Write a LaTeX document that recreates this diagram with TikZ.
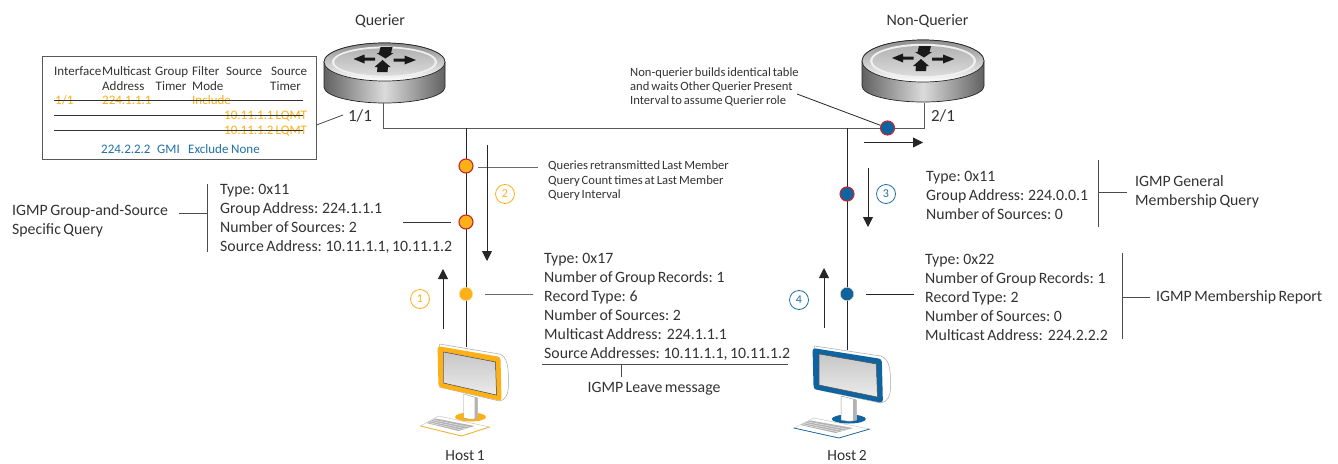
\documentclass[tikz,border=0pt]{standalone}
\usepackage{fontspec}
\setmainfont{Carlito}[WordSpace=0.7]
\usetikzlibrary{arrows.meta}
\definecolor{amb}{HTML}{FDB116}
\definecolor{blu}{HTML}{0F639F}
\definecolor{tblu}{HTML}{1F6FA8}
\definecolor{redr}{HTML}{C8252C}
\definecolor{call}{HTML}{6A6A6A}
\definecolor{txt}{HTML}{333333}
\newcommand{\fs}[1]{\fontsize{#1}{#1}\selectfont}
\tikzset{
  x=1pt,y=-1pt,
  wire/.style={draw=black!85,line width=.9pt},
  bus/.style={draw=black!65,line width=1pt},
  callout/.style={draw=call,line width=.9pt},
  bar/.style={draw=black!70,line width=.8pt},
  flow/.style={draw=black!85,line width=.9pt,-{Triangle[length=10pt,width=10pt]}},
  body/.style={text=txt,font=\fs{15.8},anchor=west,inner sep=0pt,align=left},
  small/.style={text=txt,font=\fs{12.6},anchor=west,inner sep=0pt,align=left},
  tab/.style={text=txt,font=\fs{13},anchor=base west,inner sep=0pt},
  lab/.style={text=txt,font=\fs{15.5},anchor=center,inner sep=0pt},
  dot/.style={circle,minimum size=#1,inner sep=0pt,line width=1.1pt},
  odot/.style={dot=14pt,fill=amb,draw=redr},
  bdot/.style={dot=14pt,fill=blu,draw=redr},
  num/.style={circle,draw=#1,text=#1,minimum size=19pt,inner sep=0pt,line width=.8pt,font=\fs{12}},
}
% router: centre x,y, rx, ry
\newcommand{\router}[4]{%
  \begin{scope}[shift={(#1,#2)}]
  \shade[left color=black!62,right color=black!62,middle color=black!14,draw=black!85,line width=.7pt]
     (-#3,0) -- (-#3,25) arc[start angle=180,end angle=0,x radius=#3,y radius=16] -- (#3,0) arc[start angle=0,end angle=-180,x radius=#3,y radius=#4] -- cycle;
  \shade[top color=black!45,bottom color=white,draw=black!85,line width=.7pt] (0,0) ellipse[x radius=#3,y radius=#4];
  \fill[black!6] (0,0) ellipse[x radius=#3*.87,y radius=#4*.82];
  \shade[top color=black!30,bottom color=black!14] (0,0) ellipse[x radius=#3*.83,y radius=#4*.72];
  \fill[black!90]
    (-31,-3) -- (-20,-7.5) -- (-20,-4.5) -- (-9.5,-4.5) -- (-9.5,-1.5) -- (-20,-1.5) -- (-20,1.5) -- cycle
    (31.5,-2) -- (20,-6.5) -- (20,-3.5) -- (9,-3.5) -- (9,-.5) -- (20,-.5) -- (20,2.5) -- cycle
    (-4,-15) -- (8,-15) -- (6.5,-9) -- (9,-9) -- (1,-3.5) -- (-8,-9) -- (-5.5,-9) -- cycle
    (-2,-2) -- (6,5) -- (3.5,5) -- (3,10) -- (-7.5,10) -- (-7,5) -- (-10,5) -- cycle;
  \end{scope}}
% host: x,y,xscale,colour
\newcommand{\hostpc}[4]{%
  \begin{scope}[shift={(#1,#2)},x=#3pt,y=-1pt]
  \filldraw[fill=white,draw=black!35,line width=.5pt] (2,-1) -- (62,9) .. controls (70,12) and (71,22) .. (71,38) .. controls (71,50) and (68,55) .. (62,56) -- (2,42) -- cycle;
  \fill[#4,rounded corners=3pt] (0,1) -- (63,12) -- (64,56) -- (1,42) -- cycle;
  \filldraw[draw=black!65,line width=.5pt,top color=black!22,bottom color=black!8] (6,7) -- (58,17) -- (59,50) -- (6,38) -- cycle;
  \fill[#4] (33,72) ellipse[x radius=15.5,y radius=4.5];
  \filldraw[fill=white,draw=black!40,line width=.4pt] (26,49) -- (40,53) -- (40,73) .. controls (35,75) and (30,74) .. (26,73) -- cycle;
  \fill[black!30] (37,52) -- (40,53) -- (40,73) -- (37,73.5) -- cycle;
  \filldraw[fill=white,draw=black!25,line width=.4pt] (-17,81) -- (1,71) -- (52,82) -- (24,91) -- cycle;
  \draw[#4,line width=.7pt] (-17,81) -- (24,91) -- (52,82);
  \fill[black!30] (-2,73.5) -- (37,81) -- (21,86) -- (-11,78) -- cycle;
  \draw[white,line width=.3pt] (-4,75) -- (33,82.5) (-6.5,76.3) -- (29,84) (-9,77.5) -- (25,85.3);
  \end{scope}}
\begin{document}
\begin{tikzpicture}
\useasboundingbox (0,0) rectangle (1338,463);
\fill[white] (0,0) rectangle (1338,463);
\router{384.5}{62}{60.5}{19}
\router{923}{61}{61}{21}
\hostpc{437.5}{345}{1}{amb}
\hostpc{812.5}{347}{1.1}{blu}

% coordinates
\coordinate (r1) at (383,103); \coordinate (r1c) at (383,128);
\coordinate (r2) at (924,103); \coordinate (r2c) at (924,128);
\coordinate (h1top) at (466,128); \coordinate (h1bot) at (466,347);
\coordinate (h2top) at (847,128); \coordinate (h2bot) at (847,350);
\draw[bus] (r1) -- (r1c) -- (r2c) -- (r2);
\draw[wire] (h1top) -- (h1bot);
\draw[wire] (h2top) -- (h2bot);

% dots
\node[odot] (d1) at (466,166) {};
\node[odot] (d2) at (466,222) {};
\node[dot=13.5pt,fill=amb,draw=amb!35,line width=.4pt] (d3) at (466,294) {};
\node[bdot] (d4) at (847,194) {};
\node[dot=13.5pt,fill=blu,draw=amb!35,line width=.4pt] (d5) at (847,294) {};
\node[bdot] (d6) at (887.5,128) {};

% labels
\node[lab,font=\fs{16}] (querier) at (380,21) {Querier};
\node[lab,font=\fs{16}] (nonq) at (927.5,21) {Non-Querier};
\node[lab,font=\fs{17}] (p11) at (360,116) {1/1};
\node[lab,font=\fs{17}] (p21) at (943,116) {2/1};
\node[lab] (h1) at (465,456) {Host 1};
\node[lab] (h2) at (847,456) {Host 2};

% table
\node[draw=black!65,line width=.9pt,minimum width=274pt,minimum height=103pt,inner sep=0pt] (tbl) at (179,107.5) {};
\foreach \t/\x/\y in {Interface/54/75,{Multicast}/102/75,Group/155/75,Filter/192/75,Source/226/75,Source/271/75,Address/102/90,Timer/155.5/90,Mode/192/90,Timer/270/90}
  \node[tab] at (\x,\y) {\t};
\foreach \t/\x/\y in {{1/1}/55/104,224.1.1.1/102/104,Include/192/104,{10.11.1.1 LQMT}/224/119,{10.11.1.2 LQMT}/224/134}
  \node[tab,text=amb] at (\x,\y) {\t};
\foreach \y in {100,115,130} \draw[black!80,line width=.8pt] (54,\y) -- (303,\y);
\foreach \t/\x in {224.2.2.2/101,GMI/157,Exclude/188,None/231}
  \node[tab,text=tblu] at (\x,153) {\t};
\coordinate (tc) at (343,115);
\draw[black!70,line width=.8pt] (tbl.east |- 0,125) -- (tc);

% text blocks
\node[body] (gs) at (220,219) {Type: 0x11\\[3.2pt]Group Address: 224.1.1.1\\[3.2pt]Number of Sources: 2\\[3.2pt]Source Address: 10.11.1.1, 10.11.1.2};
\node[body] (lv) at (544,307) {Type: 0x17\\[3.2pt]Number of Group Records: 1\\[3.2pt]Record Type: 6\\[3.2pt]Number of Sources: 2\\[3.2pt]Multicast Address:\ \ 224.1.1.1\\[3.2pt]Source Addresses: 10.11.1.1, 10.11.1.2};
\node[body] (gq) at (926,195) {Type: 0x11\\[3.2pt]Group Address: 224.0.0.1\\[3.2pt]Number of Sources: 0};
\node[body] (mr) at (925,297) {Type: 0x22\\[3.2pt]Number of Group Records: 1\\[3.2pt]Record Type: 2\\[3.2pt]Number of Sources: 0\\[3.2pt]Multicast Address:\ \ 224.2.2.2};
\node[body] (gsq) at (12,221) {IGMP Group-and-Source\\[3.2pt]Specific Query};
\node[body] (gmq) at (1135,192) {IGMP General\\[3.2pt]Membership Query};
\node[body] (mrl) at (1156,297) {IGMP Membership Report};
\node[body,anchor=center] (lvl) at (654,389) {IGMP Leave message};
\node[small] (qr) at (548,181) {Queries retransmitted Last Member\\[1.8pt]Query Count times at Last Member\\[1.8pt]Query Interval};
\node[small] (nq) at (630,87) {Non-querier builds identical table\\[1.8pt]and waits Other Querier Present\\[1.8pt]Interval to assume Querier role};

% callouts
\coordinate (c1) at (478,167); \coordinate (c1e) at (538,167);
\draw[callout] (c1) -- (c1e);
\coordinate (c2) at (403,222); \coordinate (c2e) at (451,222);
\draw[black!80,line width=.8pt] (c2) -- (c2e);
\coordinate (c3) at (485,294); \coordinate (c3e) at (533,294);
\draw[callout] (c3) -- (c3e);
\coordinate (c5) at (866,294); \coordinate (c5e) at (914,294);
\draw[black!85,line width=.8pt] (c5) -- (c5e);
\coordinate (c6) at (797,94);
\draw[black!85,line width=.8pt] (c6) -- (d6);

\coordinate (b1a) at (207,184); \coordinate (b1b) at (207,252); \coordinate (b1c) at (179,213);
\draw[bar] (b1a) -- (b1b) (b1c) -- (b1c -| b1a);
\coordinate (b2a) at (1098,160); \coordinate (b2b) at (1098,227); \coordinate (b2c) at (1127,192);
\draw[bar] (b2a) -- (b2b) (b2c) -- (b2c -| b2a);
\coordinate (b3a) at (1122,253); \coordinate (b3b) at (1122,339); \coordinate (b3c) at (1150,297);
\draw[bar] (b3a) -- (b3b) (b3c) -- (b3c -| b3a);
\coordinate (b4a) at (542,364); \coordinate (b4b) at (788,364); \coordinate (b4c) at (621,377);
\draw[bar] (b4a) -- (b4b) (b4c) -- (b4c |- b4a);

% flow arrows
\coordinate (f1a) at (443,329); \coordinate (f1b) at (443,269);
\draw[flow] (f1a) -- (f1b);
\coordinate (f2a) at (487,145); \coordinate (f2b) at (487,261);
\draw[flow] (f2a) -- (f2b);
\coordinate (f3a) at (868,168); \coordinate (f3b) at (868,227);
\draw[flow] (f3a) -- (f3b);
\coordinate (f4a) at (824,328); \coordinate (f4b) at (824,268);
\draw[flow] (f4a) -- (f4b);
\coordinate (f5a) at (864,142.5); \coordinate (f5b) at (923,142.5);
\draw[flow] (f5a) -- (f5b);

\node[num=amb] (n1) at (420,299) {1};
\node[num=amb] (n2) at (505,194) {2};
\node[num=tblu] (n3) at (886,194) {3};
\node[num=tblu] (n4) at (799,300) {4};
\end{tikzpicture}
\end{document}
